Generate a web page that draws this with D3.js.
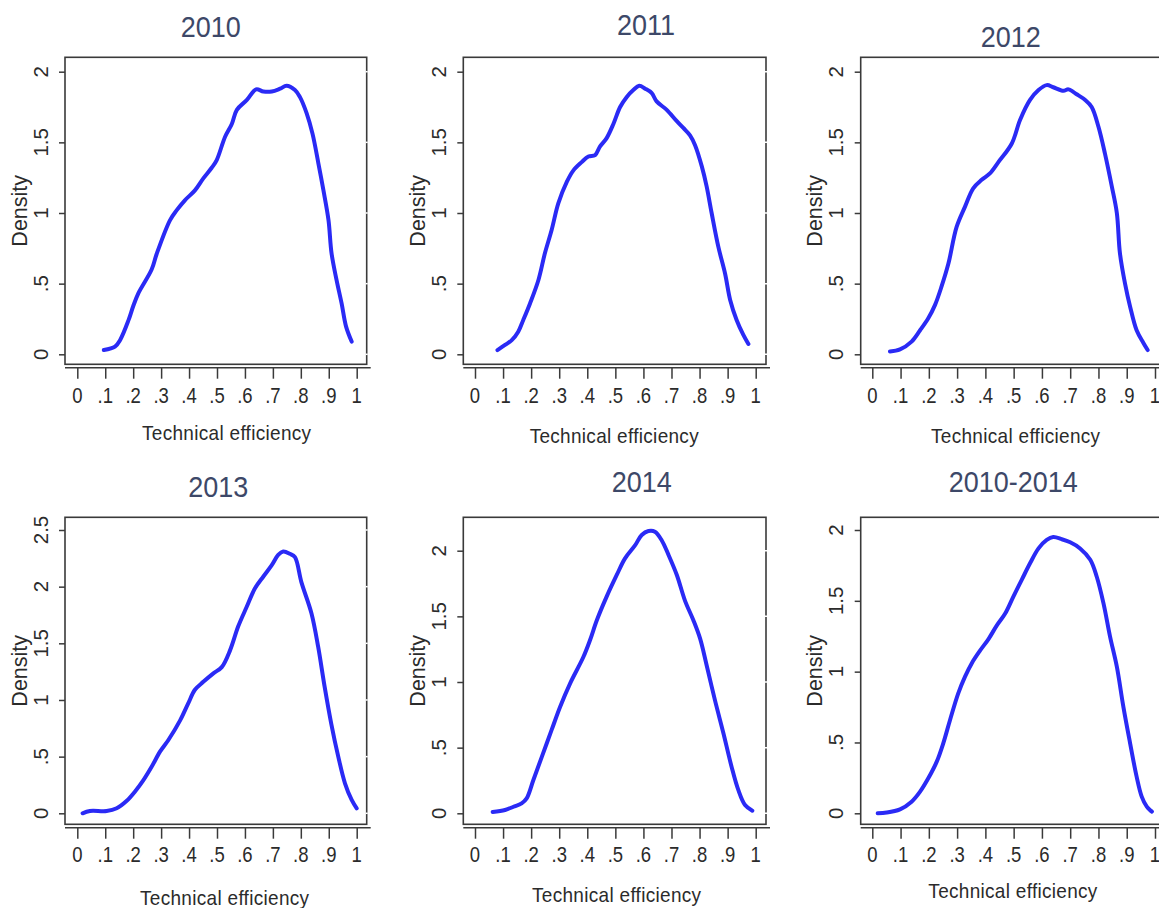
<!DOCTYPE html>
<html><head><meta charset="utf-8">
<script src="https://cdn.jsdelivr.net/npm/d3@7"></script>
<style>
html,body{margin:0;padding:0;background:#fff;}
svg{display:block;}
text{font-family:"Liberation Sans",Arial,sans-serif;}
</style></head>
<body>
<svg id="chart" width="1159" height="908"></svg>
<script>
// ---- data ----
const titles = ["2010","2011","2012","2013","2014","2010-2014"];
const xTickValues = [0,0.1,0.2,0.3,0.4,0.5,0.6,0.7,0.8,0.9,1];
const xTickLabels = ["0",".1",".2",".3",".4",".5",".6",".7",".8",".9","1"];
const yTicksA = [0,0.5,1,1.5,2];
const yTickLabelsA = ["0",".5","1","1.5","2"];
const yTicksB = [0,0.5,1,1.5,2,2.5];
const yTickLabelsB = ["0",".5","1","1.5","2","2.5"];
const xLabel = "Technical efficiency";
const yLabel = "Density";

const x2010 = [0.095,0.135,0.153,0.183,0.2,0.218,0.266,0.284,0.332,0.356,0.385,0.421,0.451,0.481,0.499,0.529,0.553,0.571,0.607,0.640,0.666,0.696,0.726,0.749,0.779,0.797,0.821,0.842,0.863,0.881,0.899,0.910,0.928,0.946,0.962,0.982];
const d2010 = [0.03,0.054,0.10,0.24,0.34,0.43,0.60,0.71,0.95,1.02,1.09,1.16,1.245,1.32,1.375,1.54,1.63,1.73,1.80,1.875,1.86,1.86,1.88,1.90,1.87,1.82,1.705,1.56,1.35,1.16,0.95,0.715,0.525,0.36,0.196,0.09];

const x2011 = [0.080,0.107,0.131,0.154,0.172,0.196,0.226,0.249,0.273,0.297,0.327,0.350,0.380,0.404,0.428,0.445,0.469,0.493,0.517,0.540,0.564,0.585,0.606,0.629,0.647,0.683,0.719,0.743,0.766,0.784,0.808,0.825,0.843,0.867,0.891,0.909,0.932,0.956,0.974];
const d2011 = [0.03,0.066,0.10,0.16,0.243,0.36,0.526,0.715,0.88,1.07,1.22,1.30,1.36,1.40,1.41,1.47,1.53,1.63,1.75,1.82,1.87,1.90,1.88,1.85,1.79,1.73,1.65,1.60,1.55,1.48,1.33,1.19,1.00,0.76,0.57,0.385,0.243,0.137,0.073];

const x2012 = [0.0625,0.098,0.139,0.169,0.198,0.222,0.245,0.269,0.298,0.328,0.357,0.387,0.416,0.446,0.493,0.523,0.558,0.588,0.617,0.640,0.676,0.694,0.723,0.753,0.776,0.800,0.823,0.847,0.865,0.876,0.894,0.912,0.935,0.959,0.974];
const d2012 = [0.02,0.035,0.09,0.17,0.255,0.35,0.48,0.64,0.90,1.045,1.175,1.235,1.28,1.36,1.49,1.66,1.80,1.87,1.905,1.89,1.865,1.875,1.84,1.80,1.75,1.61,1.42,1.19,1.00,0.715,0.50,0.337,0.17,0.08,0.03];

const x2013 = [0.019,0.045,0.105,0.141,0.177,0.206,0.236,0.266,0.296,0.326,0.368,0.397,0.421,0.451,0.487,0.517,0.547,0.576,0.606,0.636,0.666,0.696,0.719,0.737,0.761,0.779,0.802,0.838,0.862,0.885,0.909,0.934,0.958,0.982,1.0];
const d2013 = [0.0,0.02,0.02,0.044,0.11,0.19,0.29,0.41,0.544,0.647,0.82,0.97,1.09,1.16,1.235,1.29,1.44,1.65,1.82,1.985,2.09,2.19,2.28,2.31,2.29,2.26,2.04,1.765,1.47,1.12,0.79,0.50,0.265,0.118,0.044];

const x2014 = [0.063,0.107,0.137,0.166,0.184,0.208,0.238,0.273,0.303,0.339,0.386,0.410,0.434,0.469,0.505,0.534,0.570,0.594,0.618,0.641,0.665,0.689,0.719,0.748,0.778,0.802,0.825,0.855,0.885,0.914,0.938,0.962,0.988];
const d2014 = [0.01,0.025,0.05,0.076,0.114,0.254,0.43,0.635,0.81,0.99,1.19,1.32,1.47,1.65,1.815,1.94,2.04,2.12,2.15,2.145,2.08,1.97,1.815,1.62,1.47,1.33,1.13,0.86,0.61,0.355,0.178,0.063,0.02];

const xAll = [0.019,0.051,0.098,0.139,0.169,0.198,0.228,0.251,0.275,0.304,0.328,0.352,0.381,0.411,0.440,0.470,0.499,0.529,0.558,0.588,0.617,0.640,0.670,0.700,0.735,0.771,0.794,0.818,0.841,0.865,0.888,0.912,0.935,0.953,0.971,0.989];
const dAll = [0.0,0.005,0.028,0.082,0.153,0.247,0.365,0.494,0.659,0.847,0.965,1.06,1.148,1.23,1.325,1.41,1.53,1.65,1.765,1.87,1.93,1.95,1.935,1.913,1.87,1.79,1.67,1.48,1.247,1.035,0.753,0.494,0.259,0.118,0.047,0.012];

const seriesX = [x2010,x2011,x2012,x2013,x2014,xAll];
const seriesD = [d2010,d2011,d2012,d2013,d2014,dAll];

// ---- layout ----
const cols = [
  {left:65,   right:366.7, x0:77.3,  x1:356.7, tickLblX:48.3,  denX:27.3,  xlabC:[226.7,614.3]},
  {left:463.3,right:766,   x0:475,   x1:755.7, tickLblX:445.7, denX:425,   xlabC:[0,0]},
  {left:860.7,right:1163,  x0:872.3, x1:1155,  tickLblX:843.3, denX:822.3, xlabC:[0,0]}
];
const panels = [
  {c:0,top:57.3, bottom:364.3, y0:354.3, yRef:2,   yRefPx:71.7,  ticks:yTicksA, tl:yTickLabelsA, title:[210.7,36.7], xl:[226.7,440], tickBase:403.3},
  {c:1,top:57.3, bottom:364.3, y0:354.3, yRef:2,   yRefPx:71.7,  ticks:yTicksA, tl:yTickLabelsA, title:[646,35],     xl:[614.3,442.7], tickBase:403.3},
  {c:2,top:57.3, bottom:364.3, y0:354.3, yRef:2,   yRefPx:71.7,  ticks:yTicksA, tl:yTickLabelsA, title:[1010.7,46.7],xl:[1015.7,442.7], tickBase:403.3},
  {c:0,top:517.3,bottom:824.3, y0:813.3, yRef:2.5, yRefPx:530,   ticks:yTicksB, tl:yTickLabelsB, title:[218.3,496.7],xl:[224.7,905], tickBase:862},
  {c:1,top:517.3,bottom:824.3, y0:813.3, yRef:2,   yRefPx:550.7, ticks:yTicksA, tl:yTickLabelsA, title:[641.7,492.3],xl:[616.7,901.7], tickBase:862},
  {c:2,top:517.3,bottom:824.3, y0:813.3, yRef:2,   yRefPx:530,   ticks:yTicksA, tl:yTickLabelsA, title:[1013.3,492.3],xl:[1013,898], tickBase:862}
];

const svg = d3.select("#chart");
const frameColor = "#3a3a3a";
const textColor = "#2b2b2b";

panels.forEach((p,i)=>{
  const col = cols[p.c];
  const x = d3.scaleLinear().domain([0,1]).range([col.x0,col.x1]);
  const y = d3.scaleLinear().domain([0,p.yRef]).range([p.y0,p.yRefPx]);
  const g = svg.append("g");

  // plot frame
  g.append("rect").attr("x",col.left).attr("y",p.top)
    .attr("width",col.right-col.left).attr("height",p.bottom-p.top)
    .attr("fill","none").attr("stroke",frameColor).attr("stroke-width",1.6);

  // small notches on right frame at y ticks
  p.ticks.forEach(t=>{
    g.append("line").attr("x1",col.right-1).attr("x2",col.right+1)
      .attr("y1",y(t)).attr("y2",y(t)).attr("stroke","#fff").attr("stroke-width",1.5);
  });

  // y axis
  const yAxis = d3.axisLeft(y).tickValues(p.ticks).tickSize(6).tickFormat((d,k)=>p.tl[k]);
  const ya = g.append("g").attr("transform",`translate(${col.left},0)`).call(yAxis);
  ya.select(".domain").remove();
  ya.selectAll(".tick line").attr("stroke",frameColor).attr("stroke-width",1.5);
  ya.selectAll(".tick text").remove();
  p.ticks.forEach((t,k)=>{
    g.append("text").attr("transform",`translate(${col.tickLblX},${y(t)}) rotate(-90)`)
      .attr("text-anchor","middle").attr("font-size",20.5).attr("fill",textColor)
      .text(p.tl[k]);
  });

  // x axis
  const axisY = p.bottom+3.4;
  const xAxis = d3.axisBottom(x).tickValues(xTickValues).tickSize(11).tickFormat((d,k)=>xTickLabels[k]);
  const xa = g.append("g").attr("transform",`translate(0,${axisY})`).call(xAxis);
  xa.select(".domain").remove();
  xa.selectAll(".tick line").attr("stroke",frameColor).attr("stroke-width",1.5);
  xa.selectAll(".tick text").remove();
  g.append("line").attr("x1",col.left).attr("x2",col.right+4).attr("y1",axisY).attr("y2",axisY)
    .attr("stroke",frameColor).attr("stroke-width",1.6);
  xTickValues.forEach((t,k)=>{
    g.append("text").attr("transform",`translate(${x(t)},${p.tickBase}) scale(1,1.17)`)
      .attr("text-anchor","middle").attr("font-size",18.5).attr("fill",textColor)
      .text(xTickLabels[k]);
  });

  // curve
  const pts = seriesX[i].map((v,k)=>[v,seriesD[i][k]]);
  const line = d3.line().x(d=>x(d[0])).y(d=>y(d[1])).curve(d3.curveCatmullRom.alpha(0.5));
  g.append("path").datum(pts).attr("d",line).attr("fill","none")
    .attr("stroke","#2a2af5").attr("stroke-width",4).attr("stroke-linejoin","round").attr("stroke-linecap","round");

  // title
  g.append("text").attr("transform",`translate(${p.title[0]},${p.title[1]}) scale(1,1.08)`)
    .attr("text-anchor","middle").attr("font-size",27).attr("fill","#3d4868").text(titles[i]);

  // x label
  g.append("text").attr("transform",`translate(${p.xl[0]},${p.xl[1]}) scale(1,1.1)`)
    .attr("text-anchor","middle").attr("font-size",19).attr("letter-spacing",0.3).attr("fill",textColor).text(xLabel);

  // y label
  const denCY = (p.top+p.bottom)/2 - 0 + (p.c===0 && i<3 ? 0 : 0);
  g.append("text").attr("transform",`translate(${col.denX},${(i<3?210.8:670.8)}) rotate(-90)`)
    .attr("text-anchor","middle").attr("font-size",21.5).attr("fill",textColor).text(yLabel);
});
</script>
</body></html>
